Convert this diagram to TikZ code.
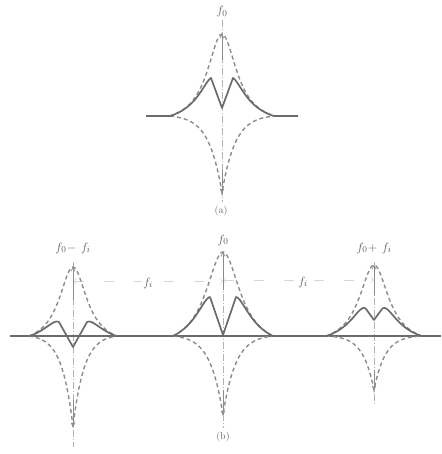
\documentclass[tikz,border=0pt]{standalone}
\usetikzlibrary{arrows.meta}
\begin{document}
\begin{tikzpicture}[x=1pt,y=-1pt,
  declare function={
    lor(\ua,\wa)=1/(1+(\ua/\wa)*(\ua/\wa));
    up(\ua,\wa,\ha,\aa)=\aa*(lor(\ua,\wa)-lor(\ha,\wa))/(1-lor(\ha,\wa));
    cusp(\ua,\wa,\ha,\aa)=\aa*(exp(-abs(\ua)/\wa)-exp(-\ha/\wa))/(1-exp(-\ha/\wa));
    sol(\ua,\wa,\ha,\aa,\pa,\dh,\hp,\ta)=(abs(\ua)<\pa) ? (\dh+(up(\pa,\wa,\ha,\aa)-\hp-\dh)*abs(\ua)/\pa) : (up(\ua,\wa,\ha,\aa)-\hp*exp(-(abs(\ua)-\pa)/\ta));
  },
  curve/.style={draw=black!58, line width=1.7pt, line join=round},
  dcurve/.style={draw=black!45, line width=1.4pt, dash pattern=on 4pt off 3pt},
  axisline/.style={draw=black!30, line width=0.6pt, dash pattern=on 7pt off 2pt on 1pt off 2pt},
  tip/.style={draw=black!45, line width=0.7pt, -{Straight Barb[length=3.5pt,width=4pt]}},
  dimline/.style={draw=black!16, line width=0.6pt, dash pattern=on 10pt off 20pt},
  lbl/.style={text=black!65, font=\fontsize{13}{15}\selectfont, inner sep=1pt},
  captext/.style={text=black!60, font=\fontsize{10}{12}\selectfont, inner sep=1pt},
]
\useasboundingbox (0,0) rectangle (441,454);

% ---------- (a) ----------
\draw[axisline] (222,20) -- (222,202);
\draw[tip] (222,60) -- (222,34);
\draw[tip] (222,170) -- (222,193);
\draw[dcurve] plot[domain=-52:52,samples=105] ({222+\x},{116-up(\x,18,52,82)});
\draw[dcurve] plot[domain=-52:52,samples=105] ({222+\x},{116+cusp(\x,13,52,77)});
\draw[curve] (146,116) -- plot[domain=-52:52,samples=105]
  ({222+\x},{116-sol(\x,18,52,82,11,8,19,7)}) -- (298,116);
\node[lbl] (fa) at (222,12) {$f_0$};
\node[captext] (capa) at (221,211) {(a)};

% ---------- (b) ----------
\draw[axisline] (73,262) -- (73,447);
\draw[axisline] (223,258) -- (223,428);
\draw[axisline] (374,262) -- (374,405);

\draw[dimline,<->] (73,281) -- (223,281);
\draw[dimline,<->] (223,280) -- (374,280);

\draw[tip] (73,300) -- (73,267);
\draw[tip] (73,400) -- (73,427);
\draw[tip] (223,290) -- (223,252);
\draw[tip] (223,390) -- (223,415);
\draw[tip] (374,295) -- (374,265);
\draw[tip] (374,370) -- (374,390);

\draw[curve] (10,336) -- (441,336);

% left group
\draw[dcurve] plot[domain=-44:44,samples=89] ({73+\x},{336-up(\x,17,44,69)});
\draw[dcurve] plot[domain=-44:44,samples=89] ({73+\x},{336+cusp(\x,11,44,91)});
\draw[curve] plot[domain=-44:44,samples=89]
  ({73+\x},{336-sol(\x,17,44,69,14,-11,23,7)});

% middle group
\draw[dcurve] plot[domain=-50:50,samples=101] ({223+\x},{336-up(\x,21,50,84)});
\draw[dcurve] plot[domain=-50:50,samples=101] ({223+\x},{336+cusp(\x,12.5,50,79)});
\draw[curve] plot[domain=-50:50,samples=101]
  ({223+\x},{336-sol(\x,21,50,84,13,1,17.6,6)});

% right group
\draw[dcurve] plot[domain=-48:48,samples=97] ({374+\x},{336-up(\x,18,48,71)});
\draw[dcurve] plot[domain=-48:48,samples=97] ({374+\x},{336+cusp(\x,11,48,54)});
\draw[curve] plot[domain=-48:48,samples=97]
  ({374+\x},{336-sol(\x,18,48,71,8,16,30.6,8)});

\node[lbl] (fl) at (73,248) {$f_0\!-\,f_i$};
\node[lbl] (fm) at (223,240) {$f_0$};
\node[lbl] (fr) at (374,248) {$f_0\!+\,f_i$};
\node[lbl,fill=white] (fi1) at (148,283) {$f_i$};
\node[lbl,fill=white] (fi2) at (303,282) {$f_i$};
\node[captext] (capb) at (223,437) {(b)};
\end{tikzpicture}
\end{document}
